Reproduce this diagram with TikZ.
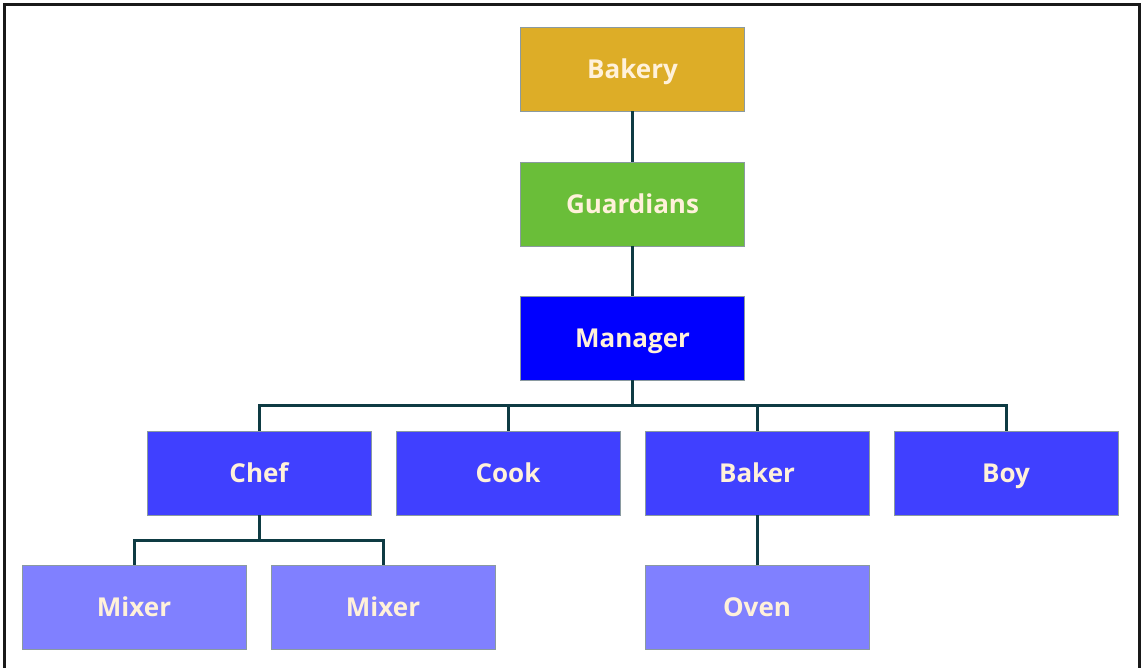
\documentclass[tikz,border=0pt]{standalone}
\usepackage{fontspec}
\setmainfont{Open Sans}
\usepackage{tikz}
\usepackage{xcolor}

\definecolor{bakerygold}{HTML}{DDAD27}
\definecolor{guardgreen}{HTML}{6ABE39}
\definecolor{managerblue}{HTML}{0000FF}
\definecolor{staffblue}{HTML}{4040FF}
\definecolor{toolblue}{HTML}{8080FF}
\definecolor{labelcream}{HTML}{FFF1DA}
\definecolor{linkteal}{HTML}{0E3B43}
\definecolor{boxedge}{HTML}{8A9AA0}

\begin{document}
\begin{tikzpicture}[x=0.5pt,y=-0.5pt,
		unit/.style={draw=boxedge,line width=0.4pt,minimum width=112pt,minimum height=42pt,inner sep=0pt,
			text height=9.3pt,text depth=0pt,text=labelcream,font=\fontsize{13}{16}\selectfont\bfseries},
		link/.style={draw=linkteal,line width=1.5pt}]
			\useasboundingbox (0,0) rectangle (1141,668);
			\draw[black!90,line width=1.5pt] (4.5,668) -- (4.5,5) -- (1139.5,5) -- (1139.5,668);

			\node[unit,fill=bakerygold] (bakery) at (632.5,69){Bakery};
			\node[unit,fill=guardgreen] (guardians) at (632.5,204){Guardians};
			\node[unit,fill=managerblue] (manager) at (632.5,338){Manager};

			\node[unit,fill=staffblue] (chef) at (259,473){Chef};
			\node[unit,fill=staffblue] (cook) at (508,473){Cook};
			\node[unit,fill=staffblue] (baker) at (757,473){Baker};
			\node[unit,fill=staffblue] (boy) at (1006,473){Boy};

			\node[unit,fill=toolblue] (mixera) at (134,607){Mixer};
			\node[unit,fill=toolblue] (mixerb) at (383,607){Mixer};
			\node[unit,fill=toolblue] (oven) at (757,607){Oven};

			\coordinate (staffbus) at (632.5,405);
			\coordinate (chefbus) at (259,540);

			\draw[link] (bakery) -- (guardians);
			\draw[link] (guardians) -- (manager);
			\draw[link] (manager) -- (staffbus);
			\draw[link] (chef.north) -- (chef.north |- staffbus) -- (boy.north |- staffbus) -- (boy.north);
			\draw[link] (cook.north) -- (cook.north |- staffbus);
			\draw[link] (baker.north) -- (baker.north |- staffbus);
			\draw[link] (chef) -- (chefbus);
			\draw[link] (mixera.north) -- (mixera.north |- chefbus) -- (mixerb.north |- chefbus) -- (mixerb.north);
			\draw[link] (baker) -- (oven);
		\end{tikzpicture}
\end{document}
